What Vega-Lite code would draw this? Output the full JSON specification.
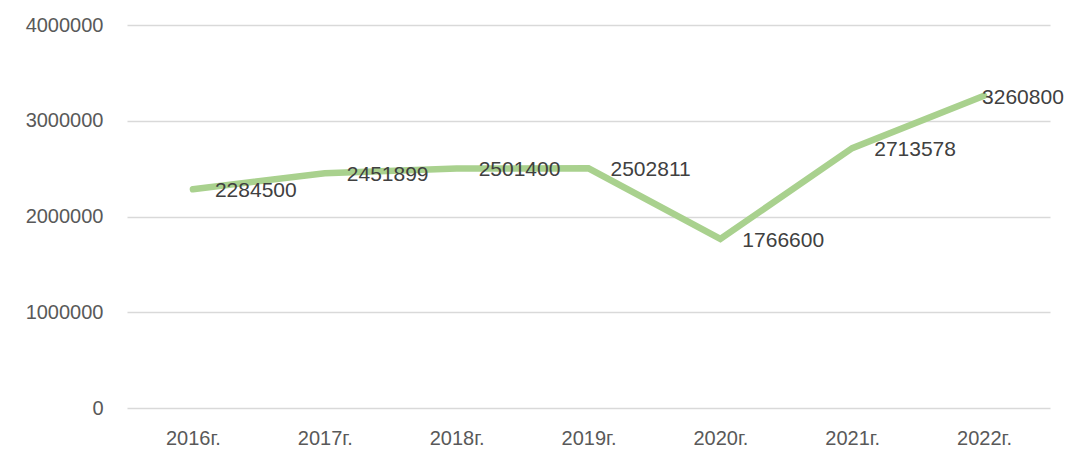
{
  "$schema": "https://vega.github.io/schema/vega-lite/v6.json",
  "width": 923,
  "height": 383,
  "autosize": {"type": "none"},
  "padding": {"left": 127, "top": 25, "right": 17, "bottom": 64},
  "background": "white",
  "config": {
    "view": {"stroke": null},
    "font": "Liberation Sans"
  },
  "data": {
    "values": [
      {"year": "2016г.", "value": 2284500},
      {"year": "2017г.", "value": 2451899},
      {"year": "2018г.", "value": 2501400},
      {"year": "2019г.", "value": 2502811},
      {"year": "2020г.", "value": 1766600},
      {"year": "2021г.", "value": 2713578},
      {"year": "2022г.", "value": 3260800}
    ]
  },
  "encoding": {
    "x": {
      "field": "year",
      "type": "ordinal",
      "sort": null,
      "scale": {"type": "point", "padding": 0.5},
      "axis": {
        "title": null,
        "labelAngle": 0,
        "labelFont": "Liberation Sans",
        "labelFontSize": 20,
        "labelColor": "#595959",
        "labelPadding": 20,
        "ticks": false,
        "domain": false,
        "grid": false
      }
    },
    "y": {
      "field": "value",
      "type": "quantitative",
      "scale": {"domain": [0, 4000000], "nice": false},
      "axis": {
        "title": null,
        "values": [0, 1000000, 2000000, 3000000, 4000000],
        "format": "d",
        "labelFont": "Liberation Sans",
        "labelFontSize": 20,
        "labelColor": "#595959",
        "labelPadding": 24,
        "ticks": false,
        "domain": false,
        "grid": true,
        "gridColor": "#d9d9d9",
        "gridWidth": 1.5
      }
    }
  },
  "layer": [
    {
      "mark": {"type": "line", "color": "#a9d18e", "strokeWidth": 6.5, "strokeCap": "round", "strokeJoin": "miter"}
    },
    {
      "transform": [{"filter": "datum.year != '2022г.'"}],
      "mark": {"type": "text", "align": "left", "baseline": "middle", "dx": 22, "dy": 2, "fontSize": 21, "color": "#404040", "font": "Liberation Sans"},
      "encoding": {"text": {"field": "value", "type": "quantitative", "format": "d"}}
    },
    {
      "transform": [{"filter": "datum.year == '2022г.'"}],
      "mark": {"type": "text", "align": "left", "baseline": "middle", "dx": -2, "dy": 2, "fontSize": 21, "color": "#404040", "font": "Liberation Sans"},
      "encoding": {"text": {"field": "value", "type": "quantitative", "format": "d"}}
    }
  ]
}
